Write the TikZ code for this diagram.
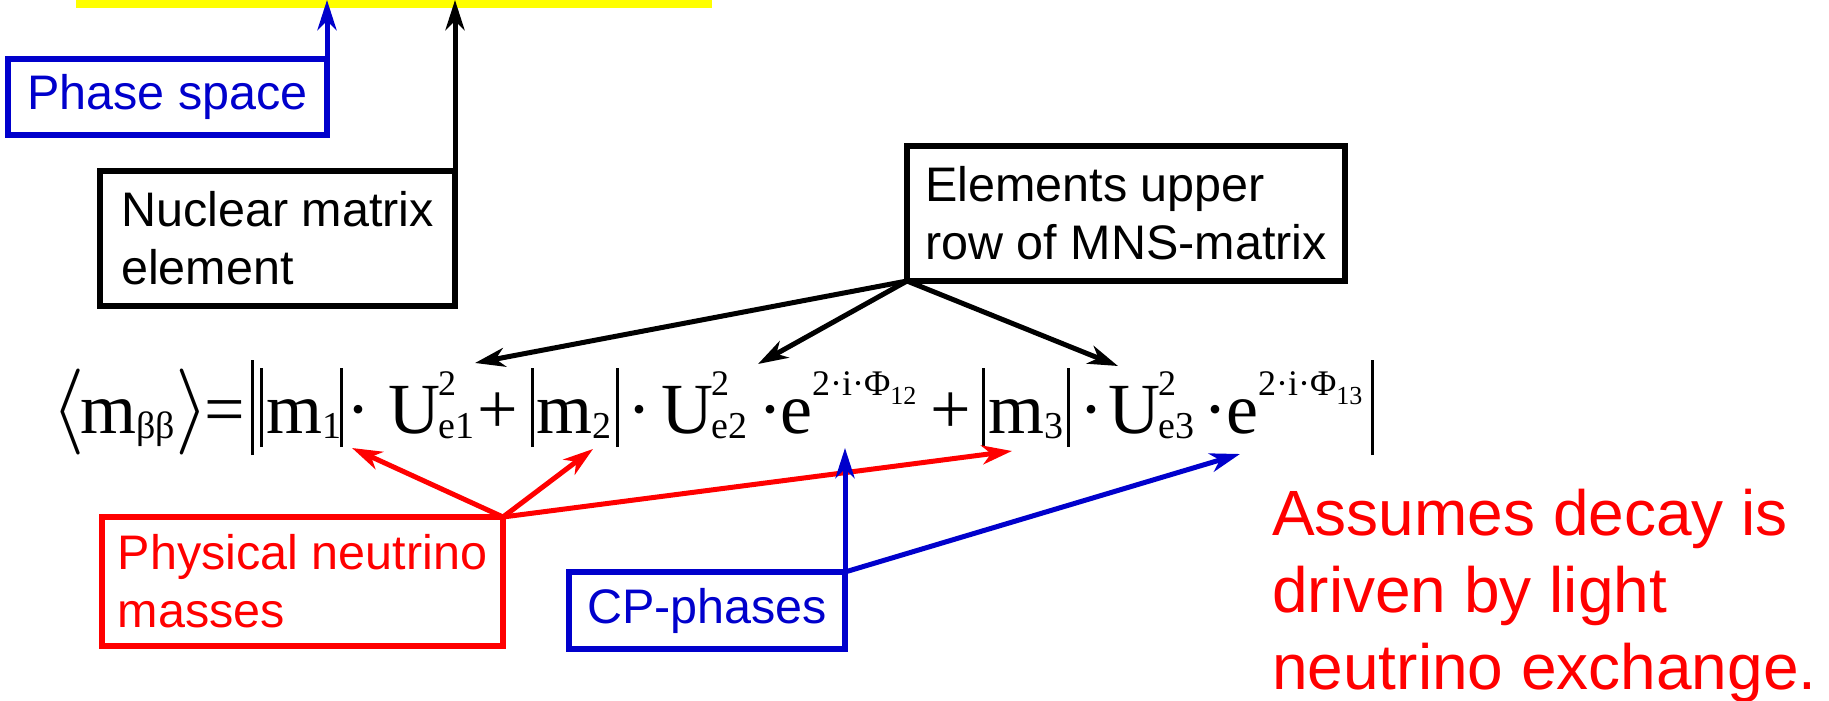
\documentclass[tikz,border=0pt]{standalone}
\usepackage{amsmath}
\usepackage{fontspec}
\setmainfont{Liberation Sans}
\newfontfamily\eqfont{Liberation Serif}
\usetikzlibrary{arrows.meta, positioning}
\DeclareFontShape{OMS}{cmsy}{m}{n}{<->cmsy10}{}
\DeclareFontShape{OMX}{cmex}{m}{n}{<->cmex10}{}
\DeclareFontShape{OML}{cmm}{m}{it}{<->cmmi10}{}
\definecolor{psblue}{RGB}{0,0,204}
\definecolor{massred}{RGB}{255,0,0}
\definecolor{baryellow}{RGB}{255,255,0}
% pieces of the formula
\newcommand{\scr}{\fontsize{36}{40}\selectfont}
\newcommand{\subscr}{\fontsize{38}{42}\selectfont}
\newcommand{\sscr}{\fontsize{26}{30}\selectfont}
\newcommand{\slot}[2]{\makebox[#1pt][l]{#2}}
\newcommand{\sbs}[2]{#1\raisebox{-5pt}{\subscr #2}}
\newcommand{\ssp}[3]{#1\kern-2pt\rlap{\raisebox{38pt}{\scr #2}}\raisebox{-5pt}{\subscr #3}}
\newcommand{\expo}[1]{e\raisebox{38pt}{\scr 2·i·Φ\raisebox{-9pt}{\sscr #1}}}
\newcommand{\ibar}{\rule[-14pt]{3pt}{79pt}}
\newcommand{\obar}{\rule[-22pt]{3pt}{95pt}}
\newcommand{\angl}[1]{{\fontsize{86}{90}\selectfont$#1$}}
\tikzset{
    labelbox/.style={rectangle, draw=#1, text=#1, line width=6pt, outer sep=0pt, inner sep=0pt, align=left, font=\fontsize{48.5}{58}\selectfont},
    arrow/.style={-{Stealth[length=30pt, width=19pt, inset=9pt]}, line width=5pt, #1},
    arrow/.default=black,
}

\begin{document}
\begin{tikzpicture}[x=1pt, y=-1pt]
\useasboundingbox (0,0) rectangle (1829,701);

% yellow strip at the top
\node[fill=baryellow, inner sep=0pt, minimum width=636pt, minimum height=8pt, anchor=north west] (bar) at (76,0) {};

% label boxes
\node[labelbox=psblue, minimum width=319pt, minimum height=76pt, anchor=north west] (phase) at (8,59) {Phase space};
\node[labelbox=black, minimum width=355pt, minimum height=135pt, anchor=north west] (nuc) at (100,171) {Nuclear matrix\\element};
\node[labelbox=black, minimum width=438pt, minimum height=135pt, anchor=north west] (elem) at (907,146) {Elements upper\\row of MNS-matrix};
\node[labelbox=massred, minimum width=401pt, minimum height=129pt, anchor=north west] (phys) at (102,517) {Physical neutrino\\masses};
\node[labelbox=psblue, minimum width=276pt, minimum height=77pt, anchor=north west] (cp) at (569,572) {CP-phases};

% the formula
\node[anchor=base west, inner sep=0pt, font={\eqfont\fontsize{72}{86}\selectfont}] (eq) at (51,433) {%
\slot{29}{\angl\langle}%
\slot{95}{\sbs{m}{ββ}}%
\slot{29}{\angl\rangle}%
\slot{47}{=}%
\slot{9}{\obar}%
\slot{6}{\ibar}%
\slot{74}{\sbs{m}{1}}%
\slot{6}{\ibar}%
\slot{42}{·}%
\slot{89}{\ssp{U}{2}{e1}}%
\slot{54}{+}%
\slot{5}{\ibar}%
\slot{80}{\sbs{m}{2}}%
\slot{11}{\ibar}%
\slot{34}{·}%
\slot{97}{\ssp{U}{2}{e2}}%
\slot{22}{·}%
\slot{150}{\expo{12}}%
\slot{52}{+}%
\slot{6}{\ibar}%
\slot{79}{\sbs{m}{3}}%
\slot{12}{\ibar}%
\slot{29}{·}%
\slot{95}{\ssp{U}{2}{e3}}%
\slot{23}{·}%
\slot{145}{\expo{13}}%
\obar};

% note
\node[anchor=north west, inner sep=0pt, align=left, text=massred, font=\fontsize{64}{77}\selectfont] (note) at (1272,489) {Assumes decay is\\driven by light\\neutrino exchange.};

% arrow ends in the formula
\coordinate (u1) at (475,363);
\coordinate (u2) at (758,364);
\coordinate (u3) at (1118,366);
\coordinate (m1) at (352,448);
\coordinate (m2) at (593,449);
\coordinate (m3) at (1012,451);
\coordinate (ph12) at (847,448);
\coordinate (ph13) at (1240,454);

% arrows
\draw[arrow=psblue] (phase.north east) -- (phase.north east |- bar.north);
\draw[arrow] (nuc.north east) -- (nuc.north east |- bar.north);
\foreach \t in {u1,u2,u3}
    \draw[arrow] (elem.south west) -- (\t);
\foreach \t in {m1,m2,m3}
    \draw[arrow=massred] (phys.north east) -- (\t);
\draw[arrow=psblue] (cp.north east) -- (cp.north east |- ph12);
\draw[arrow=psblue] (cp.north east) -- (ph13);

\end{tikzpicture}
\end{document}
